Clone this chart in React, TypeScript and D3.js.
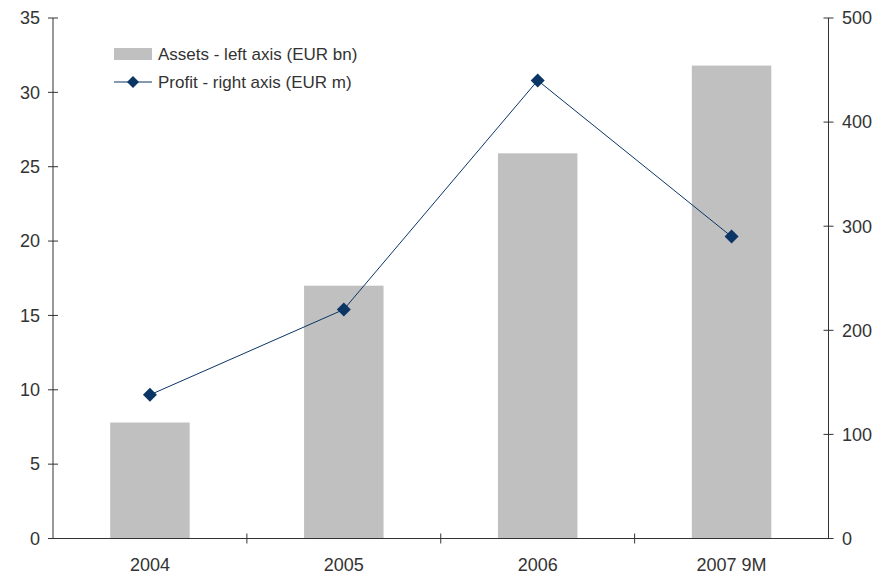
import React from "react";
import * as d3 from "d3";

const categories = ["2004", "2005", "2006", "2007 9M"];
const assets = [7.8, 17.0, 25.9, 31.8];
const profit = [138, 220, 440, 290];
const leftTicks = [0, 5, 10, 15, 20, 25, 30, 35];
const rightTicks = [0, 100, 200, 300, 400, 500];

const W = 881, H = 575;
const left = 53, right = 828.5, top = 18, bottom = 538.5;
const textColor = "#333333";
const axisColor = "#333333";
const lineColor = "#0b3565";
const font = "'Liberation Sans', Arial, sans-serif";

export default function App() {
  const x = d3.scaleBand<string>().domain(categories).range([left, right]).paddingInner(0.59).paddingOuter(0.295);
  const band = (right - left) / categories.length;
  const yL = d3.scaleLinear().domain([0, 35]).range([bottom, top]);
  const yR = d3.scaleLinear().domain([0, 500]).range([bottom, top]);
  const cx = (c: string) => (x(c) as number) + x.bandwidth() / 2;
  const line = d3.line<number>().x((_, i) => cx(categories[i])).y((d) => yR(d));
  const diamond = (px: number, py: number, r: number) => `M${px},${py - r}L${px + r},${py}L${px},${py + r}L${px - r},${py}Z`;
  const xTicks = d3.range(1, categories.length).map((i) => left + i * band);

  return (
    <svg width={W} height={H} style={{ position: "absolute", left: 0, top: 0, background: "#fff" }} fontFamily={font}>
      {categories.map((c, i) => (
        <rect key={c} x={x(c)} y={yL(assets[i])} width={x.bandwidth()} height={bottom - yL(assets[i])} fill="#c0c0c0" />
      ))}
      {/* left axis */}
      <line x1={left} x2={left} y1={top} y2={bottom} stroke={axisColor} strokeWidth={1} />
      {leftTicks.map((t) => (
        <g key={t}>
          <line x1={left - 5} x2={left + 5} y1={yL(t)} y2={yL(t)} stroke={axisColor} />
          <text x={40} y={yL(t)} dy="0.35em" textAnchor="end" fontSize={18} fill={textColor}>{t}</text>
        </g>
      ))}
      {/* right axis */}
      <line x1={right} x2={right} y1={top} y2={bottom} stroke={axisColor} strokeWidth={1} />
      {rightTicks.map((t) => (
        <g key={t}>
          <line x1={right - 5} x2={right + 5} y1={yR(t)} y2={yR(t)} stroke={axisColor} />
          <text x={842} y={yR(t)} dy="0.35em" textAnchor="start" fontSize={18} fill={textColor}>{t}</text>
        </g>
      ))}
      {/* x axis */}
      <line x1={left} x2={right} y1={bottom} y2={bottom} stroke={axisColor} />
      {xTicks.map((t, i) => (
        <line key={i} x1={t} x2={t} y1={bottom - 5} y2={bottom + 5} stroke={axisColor} />
      ))}
      {categories.map((c) => (
        <text key={c} x={cx(c)} y={565} dy="0.35em" textAnchor="middle" fontSize={18} fill={textColor}>{c}</text>
      ))}
      {/* profit line */}
      <path d={line(profit) || ""} fill="none" stroke={lineColor} strokeWidth={1} />
      {profit.map((p, i) => (
        <path key={i} d={diamond(cx(categories[i]), yR(p), 7)} fill={lineColor} />
      ))}
      {/* legend */}
      <rect x={114} y={48} width={38} height={12} fill="#c0c0c0" />
      <text x={158} y={54} dy="0.35em" fontSize={17} fill={textColor}>Assets - left axis (EUR bn)</text>
      <line x1={114} x2={152} y1={82} y2={82} stroke={lineColor} />
      <path d={diamond(133, 82, 6)} fill={lineColor} />
      <text x={158} y={82} dy="0.35em" fontSize={17} fill={textColor}>Profit - right axis (EUR m)</text>
    </svg>
  );
}
